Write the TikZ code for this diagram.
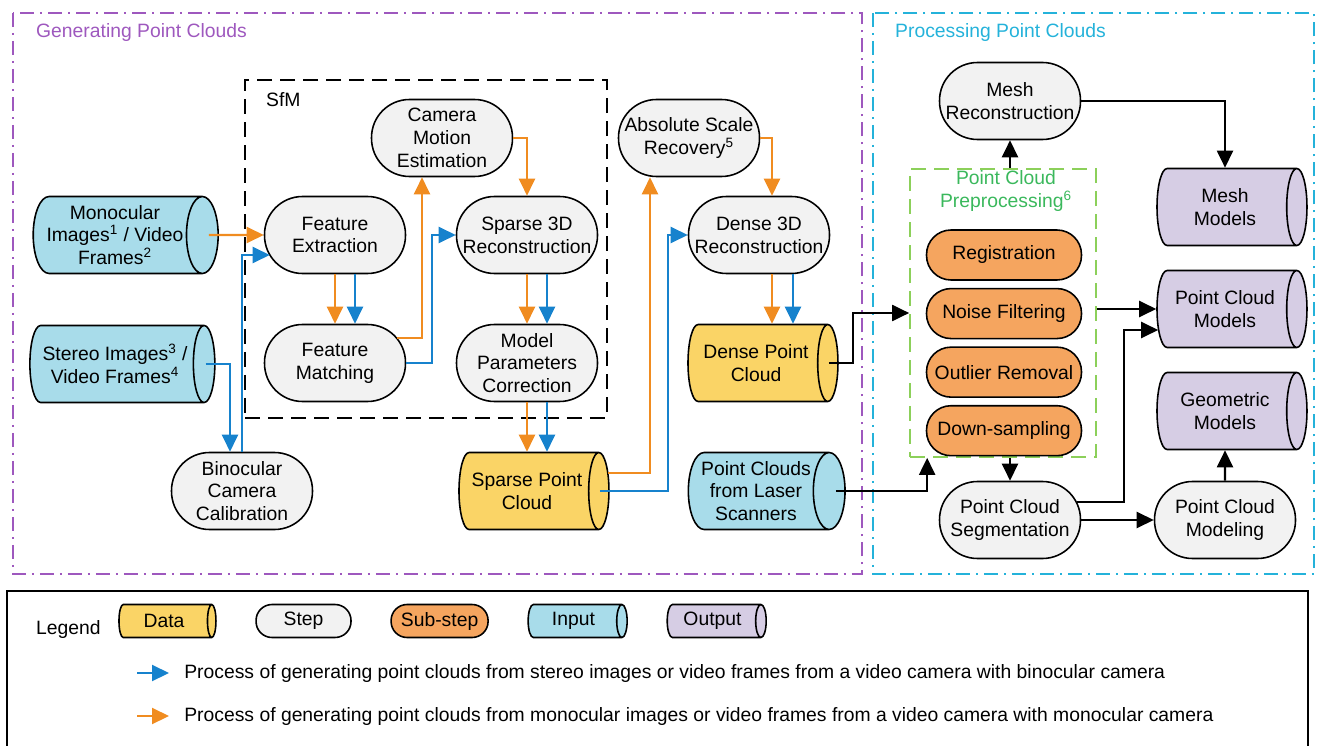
\documentclass[tikz,border=0pt]{standalone}
\usepackage{fontspec}
\setmainfont{Liberation Sans}
\usepackage{xcolor}
\usepackage{tikz}
\usetikzlibrary{arrows.meta, positioning, shapes.geometric, calc}

\definecolor{stepgray}{RGB}{242,242,242}
\definecolor{suborange}{RGB}{245,165,95}
\definecolor{datayellow}{RGB}{250,212,102}
\definecolor{inputcyan}{RGB}{168,220,234}
\definecolor{outputpurple}{RGB}{214,205,228}
\definecolor{genpurple}{RGB}{158,88,190}
\definecolor{proccyan}{RGB}{36,178,218}
\definecolor{pregreen}{RGB}{140,208,90}
\definecolor{pretext}{RGB}{58,184,92}
\definecolor{monoorange}{RGB}{240,140,32}
\definecolor{stereoblue}{RGB}{22,130,205}

\begin{document}
\begin{tikzpicture}[
        x=0.02cm, y=-0.02cm,
        every node/.style={font=\fontsize{11}{13}\selectfont},
        stepbox/.style={rectangle, rounded corners=0.76cm, draw=black, line width=0.9pt, fill=stepgray, align=center, minimum width=2.82cm, minimum height=1.54cm, inner sep=1pt},
        subbox/.style={rectangle, rounded corners=0.49cm, draw=black, line width=0.9pt, fill=suborange, align=center, minimum width=3.1cm, minimum height=1.0cm, inner sep=1pt},
        % cylinder: minimum height runs along the axis (horizontal here)
        cylbox/.style={cylinder, shape aspect=0.5, draw=black, line width=0.9pt, align=center, minimum height=3cm, minimum width=1.54cm, inner sep=1pt},
        databox/.style={cylbox, fill=datayellow},
        inbox/.style={cylbox, fill=inputcyan},
        outbox/.style={cylbox, fill=outputpurple},
        frame/.style={line width=1.3pt, dash pattern=on 0.28cm off 0.12cm on 0.04cm off 0.12cm},
        arrow/.style={-{Triangle[length=0.34cm,width=0.32cm]}, line width=1.2pt},
        monoarrow/.style={arrow, draw=monoorange},
        stereoarrow/.style={arrow, draw=stereoblue}
    ]
        \useasboundingbox (0,0) rectangle (1317,746);

        % frames
        \draw[frame, genpurple] (13,13) rectangle (862,574);
        \draw[frame, proccyan] (873,13) rectangle (1314,574);
        \node[anchor=west, text=genpurple] (gentitle) at (30,33) {Generating Point Clouds};
        \node[anchor=west, text=proccyan] (proctitle) at (889,33) {Processing Point Clouds};

        \node[draw=black, line width=1.2pt, dash pattern=on 0.3cm off 0.16cm, minimum width=7.24cm, minimum height=6.76cm] (sfm) at (426,249) {};
        \node[anchor=west] (sfmlabel) at (260,100) {SfM};

        % inputs
        \node[inbox, minimum height=3.7cm] (mono) at (115,235) {Monocular\\Images\textsuperscript{1} / Video\\Frames\textsuperscript{2}};
        \node[inbox, minimum height=3.7cm] (stereo) at (115,364) {Stereo Images\textsuperscript{3} /\\Video Frames\textsuperscript{4}};
        \node[stepbox] (bcc) at (242,491) {Binocular\\Camera\\Calibration};

        % SfM steps
        \node[stepbox] (fe) at (335,235) {Feature\\Extraction};
        \node[stepbox] (fm) at (335,363) {Feature\\Matching};
        \node[stepbox] (cme) at (442,138) {Camera\\Motion\\Estimation};
        \node[stepbox] (sp3d) at (527,235) {Sparse 3D\\Reconstruction};
        \node[stepbox] (mpc) at (527,363) {Model\\Parameters\\Correction};
        \node[databox] (spc) at (527,491) {Sparse Point\\Cloud};

        % dense
        \node[stepbox] (asr) at (689,138) {Absolute Scale\\Recovery\textsuperscript{5}};
        \node[stepbox] (d3d) at (759,235) {Dense 3D\\Reconstruction};
        \node[databox] (dpc) at (756,363) {Dense Point\\Cloud};
        \node[inbox] (laser) at (756,491) {Point Clouds\\from Laser\\Scanners};

        % processing
        \node[draw=pregreen, line width=1pt, dash pattern=on 0.3cm off 0.16cm, minimum width=3.72cm, minimum height=5.76cm] (pre) at (1003,313) {};
        \node[text=pretext, align=center] (pretitle) at (1006,191) {Point Cloud\\Preprocessing\textsuperscript{6}};
        \node[subbox] (reg) at (1004,255) {Registration};
        \node[subbox, below=0.14cm of reg] (noise) {Noise Filtering};
        \node[subbox, below=0.14cm of noise] (outlier) {Outlier Removal};
        \node[subbox, below=0.14cm of outlier] (down) {Down-sampling};
        \node[stepbox] (mesh) at (1010,101) {Mesh\\Reconstruction};
        \node[stepbox] (seg) at (1010,520) {Point Cloud\\Segmentation};
        \node[stepbox] (pcmod) at (1225,520) {Point Cloud\\Modeling};
        \node[outbox] (meshm) at (1225,207) {Mesh\\Models};
        \node[outbox] (pcm) at (1225,309) {Point Cloud\\Models};
        \node[outbox] (geo) at (1225,411) {Geometric\\Models};

        % monocular path
        \draw[monoarrow] ($(mono.east)+(-10,0)$) -- (fe.west);
        \draw[monoarrow] (fe.south) -- (fm.north);
        \draw[monoarrow] ($(fm.east)+(-9,-25)$) -| ($(cme.south)+(-20,0)$);
        \draw[monoarrow] (cme.east) -| (sp3d.north);
        \draw[monoarrow] (sp3d.south) -- (mpc.north);
        \draw[monoarrow] (mpc.south) -- (mpc.south |- spc.north);
        \draw[monoarrow] ($(spc.east)+(-2,-18)$) -| ($(asr.south)+(-39,0)$);
        \draw[monoarrow] (asr.east) -| ($(d3d.north)+(13,0)$);
        \draw[monoarrow] ($(d3d.south)+(13,0)$) -- ($(d3d.south |- dpc.north)+(13,0)$);

        % stereo path
        \draw[stereoarrow] ($(stereo.east)+(-10,0)$) -| ($(bcc.north)+(-12,0)$);
        \draw[stereoarrow] (bcc.north) |- ($(fe.west)+(6,20)$);
        \draw[stereoarrow] ($(fe.south)+(20,0)$) -- ($(fm.north)+(20,0)$);
        \draw[stereoarrow] (fm.east) -- ++(26,0) |- (sp3d.west);
        \draw[stereoarrow] ($(sp3d.south)+(20,0)$) -- ($(mpc.north)+(20,0)$);
        \draw[stereoarrow] ($(mpc.south)+(20,0)$) -- ($(mpc.south |- spc.north)+(20,0)$);
        \draw[stereoarrow] ($(spc.east)+(-10,0)$) -- ++(68,0) |- (d3d.west);
        \draw[stereoarrow] ($(d3d.south)+(34,0)$) -- ($(d3d.south |- dpc.north)+(34,0)$);

        % processing arrows
        \draw[arrow] ($(dpc.east)+(-10,0)$) -- ++(24,0) |- (pre.west);
        \draw[arrow] ($(laser.east)+(-10,0)$) -| ($(pre.south west)+(18,0)$);
        \draw[arrow] (mesh.south |- pre.north) -- (mesh.south);
        \draw[arrow] (seg.north |- pre.south) -- (seg.north);
        \draw[arrow] (mesh.east) -| (meshm.north);
        \draw[arrow] (pcm.west -| pre.east) -- (pcm.west);
        \draw[arrow] ($(seg.east)+(-4,-18)$) -- ++(47,0) |- ($(pcm.west)+(2,21)$);
        \draw[arrow] (seg.east) -- (pcmod.west);
        \draw[arrow] (pcmod.north) -- (geo.south);

        % legend
        \draw[line width=0.9pt] (7,746) |- (1308,591) -- (1308,746);
        \node[anchor=west] (legend) at (30,629) {Legend};
        \node[databox, minimum height=1.94cm, minimum width=0.66cm] (ldata) at (164,621) {Data};
        \node[stepbox, rounded corners=0.32cm, minimum width=1.9cm, minimum height=0.66cm, right=0.77cm of ldata] (lstep) {Step};
        \node[subbox, rounded corners=0.32cm, minimum width=1.94cm, minimum height=0.66cm, right=0.77cm of lstep] (lsub) {Sub-step};
        \node[inbox, minimum height=1.98cm, minimum width=0.66cm, right=0.77cm of lsub] (linput) {Input};
        \node[outbox, minimum height=1.98cm, minimum width=0.66cm, right=0.77cm of linput] (loutput) {Output};
        \coordinate (lbluestart) at (137,673);
        \node[anchor=west, inner xsep=0.3cm] (lbluetext) at (169,673) {Process of generating point clouds from stereo images or video frames from a video camera with binocular camera};
        \coordinate (lorangestart) at (137,716);
        \node[anchor=west, inner xsep=0.3cm] (lorangetext) at (169,716) {Process of generating point clouds from monocular images or video frames from a video camera with monocular camera};
        \draw[stereoarrow] (lbluestart) -- (lbluetext.west);
        \draw[monoarrow] (lorangestart) -- (lorangetext.west);
    \end{tikzpicture}
\end{document}
